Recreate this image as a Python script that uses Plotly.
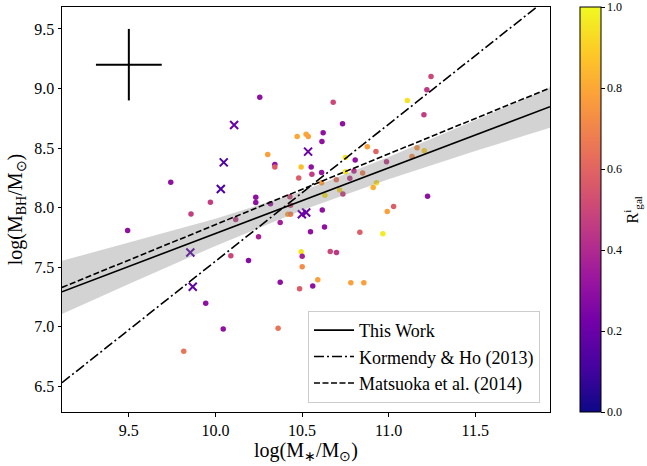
import plotly.graph_objects as go
from plotly.colors import sample_colorscale

# ---------------- data ----------------
dot_logm = [10.256, 10.472, 10.524, 10.536, 10.302, 10.343, 10.343, 10.495, 10.481, 10.553,
            9.742, 9.971, 10.233, 10.233, 10.318, 9.859, 10.117, 9.493, 10.249, 10.089,
            10.191, 10.374, 9.944, 10.045, 10.362, 9.817, 10.680, 10.734, 10.622, 10.615,
            10.557, 10.613, 10.877, 10.927, 10.750, 10.807, 10.751, 10.800, 10.850, 10.698,
            10.776, 10.613, 10.911, 10.930, 10.717, 10.736, 10.632, 10.430, 10.434, 11.245,
            11.221, 11.108, 11.204, 10.988, 11.164, 11.135, 11.206, 11.225, 11.029, 10.992,
            10.617, 10.374, 10.418, 10.434, 10.549, 10.630, 10.834, 10.495, 10.501, 10.663,
            10.699, 10.501, 10.591, 10.486, 10.562, 10.782, 10.857, 10.967]
dot_logbh = [8.927, 8.598, 8.617, 8.598, 8.447, 8.363, 8.342, 8.342, 8.249, 8.341,
             8.213, 8.045, 8.087, 8.043, 8.033, 7.947, 7.900, 7.808, 7.755, 7.596,
             7.557, 7.373, 7.197, 6.982, 6.987, 6.795, 8.885, 8.704, 8.629, 8.556,
             8.280, 8.296, 8.512, 8.472, 8.420, 8.400, 8.302, 8.307, 8.290, 8.235,
             8.246, 8.210, 8.170, 8.210, 8.148, 8.115, 8.104, 8.091, 8.020, 9.100,
             8.990, 8.900, 8.780, 8.385, 8.503, 8.430, 8.478, 8.095, 8.009, 7.967,
             7.981, 7.875, 7.944, 7.944, 7.797, 7.838, 7.794, 7.629, 7.593, 7.632,
             7.624, 7.503, 7.394, 7.319, 7.342, 7.369, 7.369, 7.780]
dot_rgal = [0.30, 0.80, 0.80, 0.78, 0.78, 0.30, 0.58, 0.86, 0.58, 0.30,
            0.30, 0.47, 0.30, 0.30, 0.32, 0.47, 0.45, 0.30, 0.38, 0.50,
            0.28, 0.30, 0.30, 0.30, 0.65, 0.65, 0.50, 0.30, 0.30, 0.30,
            0.47, 0.32, 0.78, 0.60, 0.95, 0.30, 0.95, 0.42, 0.68, 0.65,
            0.45, 0.78, 0.82, 0.93, 0.92, 0.47, 0.95, 0.50, 0.50, 0.50,
            0.45, 0.95, 0.47, 0.45, 0.75, 0.72, 0.90, 0.30, 0.58, 0.78,
            0.30, 0.36, 0.80, 0.68, 0.30, 0.30, 0.58, 0.95, 0.36, 0.50,
            0.45, 0.72, 0.78, 0.57, 0.30, 0.78, 0.78, 0.97]

cross_logm = [10.108, 10.048, 10.031, 10.535, 9.855, 9.869, 10.499, 10.524]
cross_logbh = [8.693, 8.380, 8.157, 8.470, 7.624, 7.336, 7.944, 7.959]
cross_rgal = [0.20, 0.13, 0.13, 0.20, 0.15, 0.18, 0.20, 0.20]

# typical error bar
err_logm, err_logbh = [9.5], [9.2]
err_dx, err_dy = [0.19], [0.30]

# relations: slope, value at pivot, pivot
this_work = (0.551, 8.058, 10.5)
kormendy_ho = (1.15, 8.70, 11.0)
matsuoka = (0.594, 8.154, 10.5)

# confidence band of this work
band_x = [9.114, 9.5, 10.0, 10.5, 11.0, 11.5, 11.932]
band_upper = [7.554, 7.705, 7.906, 8.138, 8.425, 8.733, 9.006]
band_lower = [7.107, 7.360, 7.679, 7.978, 8.238, 8.475, 8.671]

x_range = [9.114, 11.932]
y_range = [6.285, 9.684]
x_ticks = [9.5, 10.0, 10.5, 11.0, 11.5]
y_ticks = [6.5, 7.0, 7.5, 8.0, 8.5, 9.0, 9.5]
cb_ticks = [0.0, 0.2, 0.4, 0.6, 0.8, 1.0]

FONT = "Liberation Serif"

def rel(p, xs):
    s, y0, x0 = p
    return [y0 + s * (x - x0) for x in xs]

fig = go.Figure()

# scatter dots with colourbar
fig.add_trace(go.Scatter(
    x=dot_logm, y=dot_logbh, mode="markers", showlegend=False,
    marker=dict(size=5.5, color=dot_rgal, colorscale="Plasma", cmin=0, cmax=1,
                line=dict(width=0), showscale=True,
                colorbar=dict(x=1.062, xanchor="left", xpad=0, ypad=0, y=0.5, yanchor="middle",
                              len=1, lenmode="fraction", thickness=21, thicknessmode="pixels",
                              outlinewidth=1, outlinecolor="black",
                              tickvals=cb_ticks, ticktext=[f"{v:.1f}" for v in cb_ticks],
                              ticks="outside", ticklen=3.5, tickwidth=0.8, tickcolor="black",
                              tickfont=dict(family=FONT, size=12, color="black"))),
))

# crosses
cross_cols = sample_colorscale("Plasma", cross_rgal)
fig.add_trace(go.Scatter(
    x=cross_logm, y=cross_logbh, mode="markers", showlegend=False,
    marker=dict(symbol="x-thin", size=8, color=cross_cols,
                line=dict(width=2, color=cross_cols)),
))

# band
fig.add_trace(go.Scatter(x=band_x, y=band_lower, mode="lines", line=dict(width=0),
                         showlegend=False, hoverinfo="skip"))
fig.add_trace(go.Scatter(x=band_x, y=band_upper, mode="lines", line=dict(width=0),
                         fill="tonexty", fillcolor="rgba(128,128,128,0.35)",
                         showlegend=False, hoverinfo="skip"))

# relations
fig.add_trace(go.Scatter(x=x_range, y=rel(this_work, x_range), mode="lines",
                         name="This Work", line=dict(color="black", width=1.6)))
fig.add_trace(go.Scatter(x=x_range, y=rel(kormendy_ho, x_range), mode="lines",
                         name="Kormendy & Ho (2013)",
                         line=dict(color="black", width=1.6, dash="10px,3px,2px,3px")))
fig.add_trace(go.Scatter(x=x_range, y=rel(matsuoka, x_range), mode="lines",
                         name="Matsuoka et al. (2014)",
                         line=dict(color="black", width=1.6, dash="6px,2.5px")))

# typical error cross
fig.add_trace(go.Scatter(
    x=err_logm, y=err_logbh, mode="markers", showlegend=False,
    marker=dict(size=1, color="black"),
    error_x=dict(type="data", array=err_dx, color="black", thickness=2, width=0),
    error_y=dict(type="data", array=err_dy, color="black", thickness=2, width=0),
))

axis_common = dict(showgrid=False, zeroline=False, showline=True, linecolor="black",
                   linewidth=1, mirror=True, ticks="outside", ticklen=3.5, tickwidth=0.8,
                   tickcolor="black", automargin=False,
                   tickfont=dict(family=FONT, size=16, color="black"))

fig.update_layout(
    width=647, height=466, template="none",
    margin=dict(l=62, r=97, t=7, b=54),
    paper_bgcolor="white", plot_bgcolor="white",
    font=dict(family=FONT, color="black"),
    xaxis=dict(range=x_range, tickvals=x_ticks, ticktext=[f"{v:.1f}" for v in x_ticks],
               title=dict(text="log(M<sub>∗</sub>/M<sub>⊙</sub>)", standoff=0,
                          font=dict(family=FONT, size=20, color="black")),
               **axis_common),
    yaxis=dict(range=y_range, tickvals=y_ticks, ticktext=[f"{v:.1f}" for v in y_ticks],
               title=dict(text="log(M<sub>BH</sub>/M<sub>⊙</sub>)", standoff=6,
                          font=dict(family=FONT, size=20, color="black")),
               **axis_common),
    legend=dict(x=0.9795, xanchor="right", y=0.0223, yanchor="bottom", traceorder="normal",
                bgcolor="rgba(255,255,255,0.85)", bordercolor="#cccccc", borderwidth=1,
                font=dict(family=FONT, size=18, color="black"), itemwidth=40),
    annotations=[dict(text="R<sup>i</sup><sub>gal</sub>", xref="paper", yref="paper",
                      x=1.168, y=0.5, xanchor="center", yanchor="middle", textangle=-90,
                      showarrow=False, font=dict(family=FONT, size=16, color="black"))],
)

fig.write_html("out.html")
